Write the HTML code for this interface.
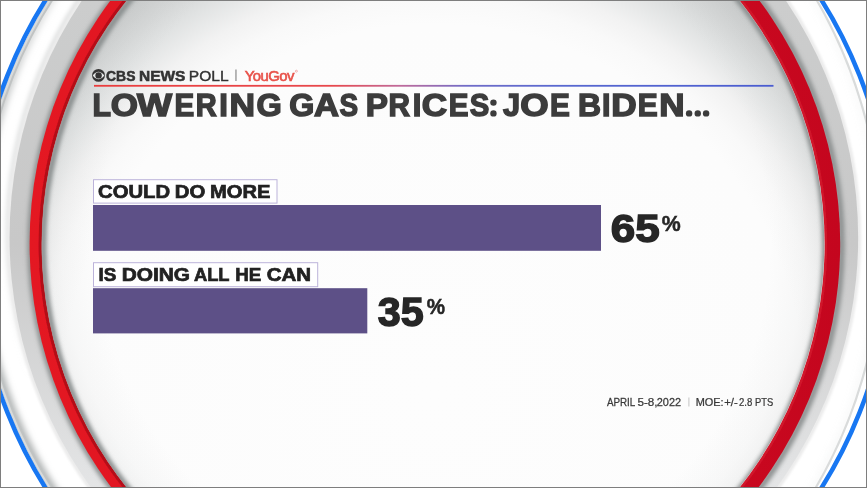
<!DOCTYPE html>
<html>
<head>
<meta charset="utf-8">
<title>CBS News Poll</title>
<style>
  html, body { margin: 0; padding: 0; background: #ffffff; }
  body { width: 867px; height: 488px; overflow: hidden; font-family: "Liberation Sans", sans-serif; }
  svg { display: block; position: absolute; left: 0; top: 0; }
  text { font-family: "Liberation Sans", sans-serif; }
</style>
</head>
<body>
<svg width="867" height="488" viewBox="0 0 867 488">
  <defs>
    <radialGradient id="disc" gradientUnits="userSpaceOnUse" cx="434" cy="394" r="500">
      <stop offset="0" stop-color="#fdfdfd"/>
      <stop offset="0.74" stop-color="#fcfcfc"/>
      <stop offset="0.79" stop-color="#f9f9f9"/>
      <stop offset="0.836" stop-color="#f2f2f2"/>
      <stop offset="0.864" stop-color="#eaebeb"/>
      <stop offset="0.90" stop-color="#e0e2e2"/>
      <stop offset="0.938" stop-color="#d6d8d8"/>
      <stop offset="0.964" stop-color="#d0d2d2"/>
      <stop offset="1" stop-color="#cacccc"/>
    </radialGradient>
    <radialGradient id="discshade" gradientUnits="userSpaceOnUse" cx="433.5" cy="244" r="391">
      <stop offset="0" stop-color="#b0b4b4" stop-opacity="0"/>
      <stop offset="0.86" stop-color="#b0b4b4" stop-opacity="0"/>
      <stop offset="0.95" stop-color="#b0b4b4" stop-opacity="0.07"/>
      <stop offset="1" stop-color="#b0b4b4" stop-opacity="0.16"/>
    </radialGradient>
    <linearGradient id="redg" gradientUnits="userSpaceOnUse" x1="30" y1="0" x2="840" y2="0">
      <stop offset="0" stop-color="#e41822"/>
      <stop offset="0.5" stop-color="#d80f22"/>
      <stop offset="1" stop-color="#c4061e"/>
    </linearGradient>
    <linearGradient id="redin" gradientUnits="userSpaceOnUse" x1="30" y1="0" x2="840" y2="0">
      <stop offset="0" stop-color="#b30a18"/>
      <stop offset="0.45" stop-color="#c20c1e"/>
      <stop offset="0.55" stop-color="#d6142a"/>
      <stop offset="1" stop-color="#d0142a"/>
    </linearGradient>
    <linearGradient id="grayg" gradientUnits="userSpaceOnUse" x1="0" y1="0" x2="0" y2="488">
      <stop offset="0" stop-color="#cccdcd"/>
      <stop offset="0.5" stop-color="#c8c8c8"/>
      <stop offset="1" stop-color="#e4e5e6"/>
    </linearGradient>
    <linearGradient id="plateB" gradientUnits="userSpaceOnUse" x1="0" y1="0" x2="867" y2="0">
      <stop offset="0" stop-color="#c0c3c3" stop-opacity="1"/>
      <stop offset="0.15" stop-color="#c0c3c3" stop-opacity="1"/>
      <stop offset="0.5" stop-color="#c0c3c3" stop-opacity="0"/>
      <stop offset="1" stop-color="#c0c3c3" stop-opacity="0"/>
    </linearGradient>
    <linearGradient id="plateg2" gradientUnits="userSpaceOnUse" x1="0" y1="488" x2="867" y2="0">
      <stop offset="0" stop-color="#a9adad" stop-opacity="1"/>
      <stop offset="0.2" stop-color="#b8bbbb" stop-opacity="0.7"/>
      <stop offset="0.35" stop-color="#c8caca" stop-opacity="0.2"/>
      <stop offset="0.6" stop-color="#d0d2d2" stop-opacity="0.12"/>
      <stop offset="1" stop-color="#d0d2d2" stop-opacity="0.1"/>
    </linearGradient>
    <linearGradient id="tlsoft" gradientUnits="userSpaceOnUse" x1="20" y1="0" x2="200" y2="260">
      <stop offset="0" stop-color="#d6d8d8" stop-opacity="0.9"/>
      <stop offset="0.45" stop-color="#d6d8d8" stop-opacity="0.6"/>
      <stop offset="1" stop-color="#d6d8d8" stop-opacity="0"/>
    </linearGradient>
    <linearGradient id="lineg" gradientUnits="userSpaceOnUse" x1="94" y1="0" x2="773" y2="0">
      <stop offset="0" stop-color="#ea3c3c"/>
      <stop offset="0.35" stop-color="#e8484c"/>
      <stop offset="0.45" stop-color="#c06a9a"/>
      <stop offset="0.55" stop-color="#6f6cc8"/>
      <stop offset="0.69" stop-color="#5868d0"/>
      <stop offset="1" stop-color="#4a5cd0"/>
    </linearGradient>
    <filter id="blur05" x="-10%" y="-10%" width="120%" height="120%"><feGaussianBlur stdDeviation="0.6"/></filter>
    <filter id="blur1" x="-10%" y="-10%" width="120%" height="120%"><feGaussianBlur stdDeviation="1"/></filter>
    <filter id="blur2" x="-10%" y="-10%" width="120%" height="120%"><feGaussianBlur stdDeviation="2"/></filter>
    <filter id="blur3" x="-10%" y="-10%" width="120%" height="120%"><feGaussianBlur stdDeviation="3"/></filter>
    <clipPath id="discclip"><circle cx="432.9" cy="244" r="391.4"/></clipPath>
    <clipPath id="grayclip"><circle cx="433.85" cy="237.5" r="424.3"/></clipPath>
    <clipPath id="plateclip"><path d="M433.5 -226.7 A449.2 469.74 0 0 1 433.5 712.8 L433.5 699.8 A455.8 455.8 0 0 1 433.5 -211.8 Z"/></clipPath>
  </defs>

  <!-- outer white -->
  <rect x="0" y="0" width="867" height="488" fill="#ffffff"/>

  <!-- white plate edge shading + blue ring -->
  <g clip-path="url(#plateclip)">
    <path d="M433.5 -226.7 A449.2 469.74 0 0 1 433.5 712.8 L433.5 699.8 A455.8 455.8 0 0 1 433.5 -211.8 Z" fill="none" stroke="url(#plateg2)" stroke-width="14" filter="url(#blur3)"/>
    <path d="M433.5 -226.7 A449.2 469.74 0 0 1 433.5 712.8 L433.5 699.8 A455.8 455.8 0 0 1 433.5 -211.8 Z" fill="none" stroke="url(#plateB)" stroke-width="8.4" filter="url(#blur05)"/>
    <path d="M433.5 -226.7 A449.2 469.74 0 0 1 433.5 712.8 L433.5 699.8 A455.8 455.8 0 0 1 433.5 -211.8 Z" fill="none" stroke="#d9dbdb" stroke-width="4.4" filter="url(#blur05)"/>
  </g>
  <circle cx="433.5" cy="244" r="458.2" fill="none" stroke="#1877f2" stroke-width="4.5"/>

  <!-- gray band -->
  <circle cx="433.85" cy="237.5" r="429.5" fill="url(#tlsoft)" filter="url(#blur2)"/>
  <circle cx="433.85" cy="237.5" r="427.3" fill="#ececec" filter="url(#blur1)"/>
  <circle cx="433.85" cy="237.5" r="424.3" fill="url(#grayg)" filter="url(#blur05)"/>
  <g clip-path="url(#grayclip)">
    <circle cx="436" cy="244" r="405.5" fill="none" stroke="#8d9191" stroke-width="6.5" filter="url(#blur2)"/>
  </g>

  <!-- red ring -->
  <circle cx="434.9" cy="243.4" r="405.3" fill="url(#redg)"/>
  <circle cx="432.9" cy="244" r="392.6" fill="none" stroke="url(#redin)" stroke-width="3.4" filter="url(#blur05)"/>

  <!-- inner disc -->
  <circle cx="433.2" cy="244" r="391.4" fill="url(#disc)"/>
  <circle cx="433.2" cy="244" r="391.4" fill="url(#discshade)"/>
  <g clip-path="url(#discclip)">
    <circle cx="434.2" cy="245.5" r="391.0" fill="none" stroke="#868b8b" stroke-width="6" filter="url(#blur2)"/>
  </g>

  <!-- header -->
  <g>
    <circle cx="98.5" cy="75.4" r="6.4" fill="#333"/>
    <path d="M92.7 75.4 Q98.5 67.9 104.3 75.4 Q98.5 82.9 92.7 75.4 Z" fill="#e6e8e8"/>
    <circle cx="98.6" cy="75.4" r="3.2" fill="#333"/>
    <rect x="235.2" y="69.5" width="1.5" height="11.5" fill="#a0a0a0"/>
    <circle cx="296.4" cy="71.2" r="1" fill="none" stroke="#e8524a" stroke-width="0.4"/>
  </g>
  <rect x="94" y="84.9" width="679.5" height="1.8" fill="url(#lineg)"/>

  <!-- row 1 -->
  <rect x="93.5" y="179.7" width="183.5" height="23.4" fill="#ffffff" stroke="#bcb3da" stroke-width="1"/>
  <rect x="93" y="205" width="508" height="45.8" fill="#5d5087"/>

  <!-- row 2 -->
  <rect x="93.5" y="262.7" width="224.2" height="24" fill="#ffffff" stroke="#bcb3da" stroke-width="1"/>
  <rect x="93" y="288.2" width="274.3" height="45.2" fill="#5d5087"/>

  <!-- footer -->
  <rect x="688.4" y="397.5" width="1" height="9" fill="#c4c4c4"/>

  <g opacity="0.999">
  <circle cx="689.1" cy="113.4" r="3.2" fill="#3c3c3c"/>
  <circle cx="697.75" cy="113.4" r="3.2" fill="#3c3c3c"/>
  <circle cx="706.1" cy="113.4" r="3.2" fill="#3c3c3c"/>
  <circle cx="493.45" cy="102.6" r="3.2" fill="#3c3c3c"/>
  <circle cx="493.45" cy="113.4" r="3.2" fill="#3c3c3c"/>
  <!-- text -->
  <text transform="translate(92.58 116.0) scale(0.9465 1)" font-size="32.0" font-weight="bold" fill="#3c3c3c" stroke="#3c3c3c" stroke-width="1.5">L</text>
  <text transform="translate(110.75 116.0) scale(1.0947 1)" font-size="32.0" font-weight="bold" fill="#3c3c3c" stroke="#3c3c3c" stroke-width="1.5">O</text>
  <text transform="translate(136.96 116.0) scale(1.1594 1)" font-size="32.0" font-weight="bold" fill="#3c3c3c" stroke="#3c3c3c" stroke-width="1.5">W</text>
  <text transform="translate(174.41 116.0) scale(0.9247 1)" font-size="32.0" font-weight="bold" fill="#3c3c3c" stroke="#3c3c3c" stroke-width="1.5">E</text>
  <text transform="translate(195.74 116.0) scale(0.9079 1)" font-size="32.0" font-weight="bold" fill="#3c3c3c" stroke="#3c3c3c" stroke-width="1.5">R</text>
  <text transform="translate(219.25 116.0) scale(0.9667 1)" font-size="32.0" font-weight="bold" fill="#3c3c3c" stroke="#3c3c3c" stroke-width="1.5">I</text>
  <text transform="translate(229.54 116.0) scale(1.1062 1)" font-size="32.0" font-weight="bold" fill="#3c3c3c" stroke="#3c3c3c" stroke-width="1.5">N</text>
  <text transform="translate(256.59 116.0) scale(1.0151 1)" font-size="32.0" font-weight="bold" fill="#3c3c3c" stroke="#3c3c3c" stroke-width="1.5">G</text>
  <text transform="translate(289.3 116.0) scale(1.0065 1)" font-size="32.0" font-weight="bold" fill="#3c3c3c" stroke="#3c3c3c" stroke-width="1.5">G</text>
  <text transform="translate(314.07 116.0) scale(1.0809 1)" font-size="32.0" font-weight="bold" fill="#3c3c3c" stroke="#3c3c3c" stroke-width="1.5">A</text>
  <text transform="translate(339.6 116.0) scale(0.8723 1)" font-size="32.0" font-weight="bold" fill="#3c3c3c" stroke="#3c3c3c" stroke-width="1.5">S</text>
  <text transform="translate(365.84 116.0) scale(1.041 1)" font-size="32.0" font-weight="bold" fill="#3c3c3c" stroke="#3c3c3c" stroke-width="1.5">P</text>
  <text transform="translate(388.6 116.0) scale(0.9303 1)" font-size="32.0" font-weight="bold" fill="#3c3c3c" stroke="#3c3c3c" stroke-width="1.5">R</text>
  <text transform="translate(412.75 116.0) scale(0.9667 1)" font-size="32.0" font-weight="bold" fill="#3c3c3c" stroke="#3c3c3c" stroke-width="1.5">I</text>
  <text transform="translate(421.75 116.0) scale(1.0989 1)" font-size="32.0" font-weight="bold" fill="#3c3c3c" stroke="#3c3c3c" stroke-width="1.5">C</text>
  <text transform="translate(448.81 116.0) scale(0.9247 1)" font-size="32.0" font-weight="bold" fill="#3c3c3c" stroke="#3c3c3c" stroke-width="1.5">E</text>
  <text transform="translate(469.8 116.0) scale(0.9157 1)" font-size="32.0" font-weight="bold" fill="#3c3c3c" stroke="#3c3c3c" stroke-width="1.5">S</text>
  <text transform="translate(502.94 116.0) scale(0.9636 1)" font-size="32.0" font-weight="bold" fill="#3c3c3c" stroke="#3c3c3c" stroke-width="1.5">J</text>
  <text transform="translate(520.23 116.0) scale(1.1411 1)" font-size="32.0" font-weight="bold" fill="#3c3c3c" stroke="#3c3c3c" stroke-width="1.5">O</text>
  <text transform="translate(549.91 116.0) scale(0.9299 1)" font-size="32.0" font-weight="bold" fill="#3c3c3c" stroke="#3c3c3c" stroke-width="1.5">E</text>
  <text transform="translate(578.01 116.0) scale(0.9952 1)" font-size="32.0" font-weight="bold" fill="#3c3c3c" stroke="#3c3c3c" stroke-width="1.5">B</text>
  <text transform="translate(601.88 116.0) scale(0.95 1)" font-size="32.0" font-weight="bold" fill="#3c3c3c" stroke="#3c3c3c" stroke-width="1.5">I</text>
  <text transform="translate(611.15 116.0) scale(1.1 1)" font-size="32.0" font-weight="bold" fill="#3c3c3c" stroke="#3c3c3c" stroke-width="1.5">D</text>
  <text transform="translate(637.7 116.0) scale(0.9351 1)" font-size="32.0" font-weight="bold" fill="#3c3c3c" stroke="#3c3c3c" stroke-width="1.5">E</text>
  <text transform="translate(659.16 116.0) scale(1.0963 1)" font-size="32.0" font-weight="bold" fill="#3c3c3c" stroke="#3c3c3c" stroke-width="1.5">N</text>
  <text transform="translate(98.09 197.9) scale(1.1129 1)" font-size="18.2" font-weight="bold" fill="#222" stroke="#222" stroke-width="0.7">COULD</text>
  <text transform="translate(174.76 197.9) scale(1.1154 1)" font-size="18.2" font-weight="bold" fill="#222" stroke="#222" stroke-width="0.7">DO</text>
  <text transform="translate(209.97 197.9) scale(1.1065 1)" font-size="18.2" font-weight="bold" fill="#222" stroke="#222" stroke-width="0.7">MORE</text>
  <text transform="translate(98.62 281.0) scale(1.0375 1)" font-size="18.2" font-weight="bold" fill="#222" stroke="#222" stroke-width="0.7">IS</text>
  <text transform="translate(121.64 281.0) scale(1.1466 1)" font-size="18.2" font-weight="bold" fill="#222" stroke="#222" stroke-width="0.7">DOING</text>
  <text transform="translate(193.9 281.0) scale(1.0071 1)" font-size="18.2" font-weight="bold" fill="#222" stroke="#222" stroke-width="0.7">ALL</text>
  <text transform="translate(235.13 281.0) scale(1.0309 1)" font-size="18.2" font-weight="bold" fill="#222" stroke="#222" stroke-width="0.7">HE</text>
  <text transform="translate(266.74 281.0) scale(1.1263 1)" font-size="18.2" font-weight="bold" fill="#222" stroke="#222" stroke-width="0.7">CAN</text>
  <text transform="translate(106.06 80.8) scale(0.9475 1)" font-size="14.7" font-weight="bold" fill="#333" stroke="#333" stroke-width="0.55">CBS</text>
  <text transform="translate(139.01 80.8) scale(1.0535 1)" font-size="14.7" font-weight="bold" fill="#333" stroke="#333" stroke-width="0.55">NEWS</text>
  <text transform="translate(188.83 80.8) scale(1.0667 1)" font-size="14.6" fill="#333" stroke="#333" stroke-width="0.4">POLL</text>
  <text transform="translate(244.77 80.7) scale(1.0624 1)" font-size="14" fill="#e8524a" stroke="#e8524a" stroke-width="0.6" letter-spacing="-0.5">YouGov</text>
  <text transform="translate(610.85 242.4) scale(1.129 1)" font-size="39.0" font-weight="bold" fill="#262626" stroke="#262626" stroke-width="1.4">65</text>
  <text transform="translate(661.76 231.3) scale(0.9684 1)" font-size="22.0" font-weight="bold" fill="#262626" stroke="#262626" stroke-width="0.5">%</text>
  <text transform="translate(377.74 326.2) scale(1.0273 1)" font-size="40.2" font-weight="bold" fill="#262626" stroke="#262626" stroke-width="1.4">35</text>
  <text transform="translate(426.77 314.1) scale(0.9368 1)" font-size="22.0" font-weight="bold" fill="#262626" stroke="#262626" stroke-width="0.5">%</text>
  <text transform="translate(606.9 405.7) scale(0.9203 1)" font-size="10.7" fill="#383838" stroke="#383838" stroke-width="0.25">APRIL</text>
  <text transform="translate(637.43 405.7) scale(1.0899 1)" font-size="10.7" fill="#383838" stroke="#383838" stroke-width="0.25">5-8,</text>
  <text transform="translate(656.79 405.7) scale(1.0217 1)" font-size="10.7" fill="#383838" stroke="#383838" stroke-width="0.25">2022</text>
  <text transform="translate(695.73 405.7) scale(1.0214 1)" font-size="10.7" fill="#383838" stroke="#383838" stroke-width="0.25">MOE:</text>
  <text transform="translate(724.27 405.7) scale(1.0583 1)" font-size="10.7" fill="#383838" stroke="#383838" stroke-width="0.25">+/-</text>
  <text transform="translate(738.95 405.7) scale(0.8929 1)" font-size="10.7" fill="#383838" stroke="#383838" stroke-width="0.25">2.8</text>
  <text transform="translate(754.94 405.7) scale(0.8759 1)" font-size="10.7" fill="#383838" stroke="#383838" stroke-width="0.25">PTS</text>
  </g>

  <!-- frame -->
  <rect x="0.5" y="0.5" width="866" height="487" fill="none" stroke="#7e7e7e" stroke-width="1"/>
</svg>
</body>
</html>
